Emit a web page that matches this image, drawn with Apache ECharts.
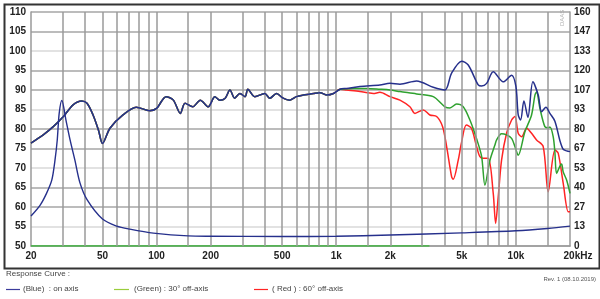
<!DOCTYPE html>
<html><head><meta charset="utf-8">
<script src="https://cdn.jsdelivr.net/npm/echarts@6/dist/echarts.min.js"></script>
<style>html,body{margin:0;padding:0;background:#fff}#c{width:600px;height:299px}</style>
</head><body><div id="c"></div>
<script>
// ---- data ----
const xTickValues = [20, 50, 100, 200, 500, 1000, 2000, 5000, 10000, 20000];
const xTickLabels = ['20', '50', '100', '200', '500', '1k', '2k', '5k', '10k', '20kHz'];
const gridFreqs = [30, 40, 50, 60, 70, 80, 90, 100, 150, 200, 300, 400, 500, 600, 700, 800, 900, 1000, 1500, 2000, 3000, 4000, 5000, 6000, 7000, 8000, 9000, 10000, 15000];

// shared part of the three response curves (Hz, dB)
const baseFreq = [20, 23.4, 26.6, 30.3, 34.3, 38.3, 41, 44.3, 47.5, 50, 55, 65, 77, 91.5, 100, 113, 124, 135.5, 144, 159, 175, 194, 211, 225, 241, 256, 272, 291, 311, 322, 352, 400, 427, 465, 506, 551, 601, 655, 747, 814, 887, 965, 1050];
const baseDb = [76.4, 78.5, 80.6, 83.2, 86.2, 87.2, 86.6, 83.6, 79.7, 76.3, 80.2, 83.6, 85.6, 84.7, 85.3, 88.3, 87.4, 84, 86.6, 85.7, 87.4, 85.7, 88.3, 87.4, 87.9, 90, 87.9, 89.1, 88.3, 90.2, 88.3, 89.1, 87.9, 89.1, 87.9, 87.4, 88.3, 88.7, 89.1, 89.3, 88.7, 89.1, 90.2];

// (Blue) on axis, above 1 kHz
const blueFreq = [1142, 1355, 1750, 1990, 2262, 2800, 3466, 4026, 4386, 4988, 5428, 6168, 6442, 6872, 7478, 8497, 9464, 10000, 10300, 10620, 11080, 11660, 12430, 13310, 13900, 14690, 15460, 16480, 17580, 18330, 19150, 20000];
const blueDb = [90.4, 90.9, 91.3, 91.7, 91.5, 92.3, 90.7, 90, 94.3, 97.4, 96.4, 91.3, 91, 91.7, 94.7, 92.1, 93.8, 90.9, 83.6, 82.3, 87.2, 83, 92.1, 88.7, 84.4, 85.6, 84, 82, 77, 74.8, 74.4, 74.2];

// (Green) 30° off-axis, above 1 kHz
const greenFreq = [1142, 1239, 1476, 1750, 1990, 2262, 2800, 3466, 4026, 4292, 4676, 5090, 5546, 6040, 6442, 6720, 7170, 7640, 7810, 8320, 8872, 9464, 9872, 10300, 11220, 12220, 12760, 13030, 13600, 14490, 15120, 15460, 16130, 16480, 16840, 17580, 17960, 18330, 19150, 20000];
const greenDb = [90.3, 90.4, 90.4, 90.2, 90, 89.6, 89, 88.3, 85.7, 85.4, 86.4, 85.7, 82.3, 77.5, 73, 65.6, 72, 75.9, 77.2, 78.8, 78.5, 77.6, 75.5, 73.3, 79.3, 83.6, 88.7, 89.5, 85.3, 80.6, 80.3, 80.5, 78, 74, 68.6, 70.5, 71, 69, 66.9, 63.5];

// (Red) 60° off-axis, above 1 kHz
const redFreq = [1142, 1355, 1607, 1750, 1990, 2262, 2570, 2741, 3048, 3320, 3620, 3908, 4115, 4386, 4478, 4774, 4988, 5298, 5655, 6040, 6304, 6578, 7012, 7478, 7710, 7972, 8320, 8872, 9464, 9872, 10300, 10760, 11470, 12220, 13030, 14190, 15120, 16480, 17190, 18330, 19540, 20000];
const redDb = [90, 89.6, 89.1, 89.4, 88.3, 87.4, 85.7, 84, 84.9, 83.6, 83.2, 80.6, 75.5, 67.8, 67.1, 72, 76.7, 81, 80.2, 75.5, 72.9, 72.5, 72.5, 63.5, 55.8, 62.6, 72, 78.9, 82.3, 83.2, 78.9, 78, 80.2, 78.9, 77.2, 75.5, 63.9, 74.6, 73.8, 66.1, 58.8, 58.8];

// impedance-type curve (right axis, 0..160)
const impFreq = [20, 22.5, 24.4, 26.1, 27.2, 28.0, 28.7, 29.7, 31.3, 33.0, 35.1, 37.5, 41.1, 50, 60, 71, 96, 150, 200, 500, 1000, 2000, 5000, 10000, 15000, 20000];
const impVal = [20.5, 28, 36, 45, 58.7, 72.5, 90.7, 99.5, 86.1, 72.5, 58.7, 43, 31.5, 18.4, 13.6, 11.5, 8.8, 6.9, 6.7, 6.5, 6.7, 7.5, 9, 10.4, 12, 13.6];

// green floor trace at 50 dB
const floorFreq = [20, 3300];
const floorDb = [50, 50];

// ---- chart ----
const FONT = '"Liberation Sans", Arial, sans-serif';
const pair = (f, v) => f.map((x, i) => [x, v[i]]);
const blueData = pair(baseFreq, baseDb).concat(pair(blueFreq, blueDb));
const greenData = pair(baseFreq, baseDb).concat(pair(greenFreq, greenDb));
const redData = pair(baseFreq, baseDb).concat(pair(redFreq, redDb));

const BLUE = '#26308c', GREEN = '#2fa12f', RED = '#ff2424';

const chart = echarts.init(document.getElementById('c'), null, { renderer: 'canvas' });
const labelStyle = { fontFamily: FONT, fontWeight: 'bold', fontSize: 10, color: '#222' };

const option = {
  animation: false,
  backgroundColor: '#fff',
  textStyle: { fontFamily: FONT },
  grid: { left: 31, right: 30, top: 12, bottom: 53, containLabel: false, outerBoundsMode: 'none' },
  xAxis: {
    type: 'log', logBase: 10, min: 20, max: 20000,
    axisLine: { show: true, lineStyle: { color: '#9a9a9a', width: 1.5 } },
    axisTick: { show: false },
    splitLine: { show: false },
    axisLabel: Object.assign({}, labelStyle, {
      customValues: xTickValues, margin: 5, showMinLabel: true, showMaxLabel: true,
      formatter: function (v) {
        for (let i = 0; i < xTickValues.length; i++) {
          if (Math.abs(Math.log10(v) - Math.log10(xTickValues[i])) < 1e-6) {
            return i === xTickValues.length - 1 ? '{hz|' + xTickLabels[i] + '}' : xTickLabels[i];
          }
        }
        return '';
      },
      rich: { hz: Object.assign({}, labelStyle, { padding: [0, 0, 0, 16] }) }
    })
  },
  yAxis: [{
    type: 'value', min: 50, max: 110, interval: 5, position: 'left',
    name: 'dB', nameLocation: 'middle', nameGap: 20, nameRotate: 90,
    nameTextStyle: { fontFamily: FONT, fontWeight: 'bold', fontSize: 11, color: '#222' },
    axisLine: { show: true, lineStyle: { color: '#9a9a9a', width: 1.5 } },
    axisTick: { show: false },
    axisLabel: Object.assign({}, labelStyle, { margin: 5 }),
    splitLine: { show: true, lineStyle: { color: ['#a6a6a6', '#d9d9d9', '#a6a6a6'], width: 1.5 } }
  }, {
    type: 'value', min: 0, max: 160, interval: 160 / 12, position: 'right',
    axisLine: { show: true, lineStyle: { color: '#9a9a9a', width: 1.5 } },
    axisTick: { show: false },
    splitLine: { show: false },
    axisLabel: Object.assign({}, labelStyle, { margin: 4, formatter: v => String(Math.round(v)) })
  }],
  series: [
    {
      name: 'grid', type: 'line', data: [[20, 50]], showSymbol: false, silent: true,
      lineStyle: { opacity: 0 }, z: 1,
      markLine: {
        silent: true, symbol: ['none', 'none'], label: { show: false },
        lineStyle: { color: '#9a9a9a', width: 1.5, type: 'solid' },
        emphasis: { disabled: true },
        data: gridFreqs.map(f => ({ xAxis: f }))
      }
    },
    { name: 'floor', type: 'line', data: pair(floorFreq, floorDb), showSymbol: false, silent: true,
      lineStyle: { color: '#3cb93c', width: 1.4 }, z: 2 },
    { name: '( Red ) : 60° off-axis', type: 'line', data: redData, smooth: 0.3, showSymbol: false,
      lineStyle: { color: RED, width: 1.5 }, z: 3 },
    { name: '(Green) : 30° off-axis', type: 'line', data: greenData, smooth: 0.3, showSymbol: false,
      lineStyle: { color: GREEN, width: 1.5 }, z: 4 },
    { name: '(Blue) : on axis', type: 'line', data: blueData, smooth: 0.3, showSymbol: false,
      lineStyle: { color: BLUE, width: 1.5 }, z: 5 },
    { name: 'impedance', type: 'line', yAxisIndex: 1, data: pair(impFreq, impVal), smooth: 0.3, showSymbol: false,
      lineStyle: { color: BLUE, width: 1.4 }, z: 5 }
  ],
  graphic: [
    { type: 'rect', left: 2, top: 2, shape: { width: 595, height: 264 }, silent: true,
      style: { fill: 'none', stroke: '#333', lineWidth: 2 } },
    { type: 'text', x: 559, y: 26, rotation: Math.PI / 2, silent: true,
      style: { text: 'DAAS', fill: '#b0b0b0', font: '6px ' + FONT } },
    { type: 'text', x: 6, y: 270, silent: true,
      style: { text: 'Response Curve :', fill: '#444', font: '8px ' + FONT } },
    { type: 'text', x: 596, y: 276, silent: true,
      style: { text: 'Rev. 1 (08.10.2019)', fill: '#555', font: '6px ' + FONT, align: 'right' } },
    { type: 'line', shape: { x1: 6, y1: 289.5, x2: 20, y2: 289.5 }, style: { stroke: '#3c3c9c', lineWidth: 1.2 } },
    { type: 'text', x: 23, y: 285, style: { text: '(Blue)  : on axis', fill: '#444', font: '8px ' + FONT } },
    { type: 'line', shape: { x1: 114, y1: 289.5, x2: 129, y2: 289.5 }, style: { stroke: '#9acd3c', lineWidth: 1.2 } },
    { type: 'text', x: 134, y: 285, style: { text: '(Green) : 30° off-axis', fill: '#444', font: '8px ' + FONT } },
    { type: 'line', shape: { x1: 254, y1: 289.5, x2: 268, y2: 289.5 }, style: { stroke: RED, lineWidth: 1.2 } },
    { type: 'text', x: 272, y: 285, style: { text: '( Red ) : 60° off-axis', fill: '#444', font: '8px ' + FONT } }
  ]
};
chart.setOption(option);
</script>
</body></html>
